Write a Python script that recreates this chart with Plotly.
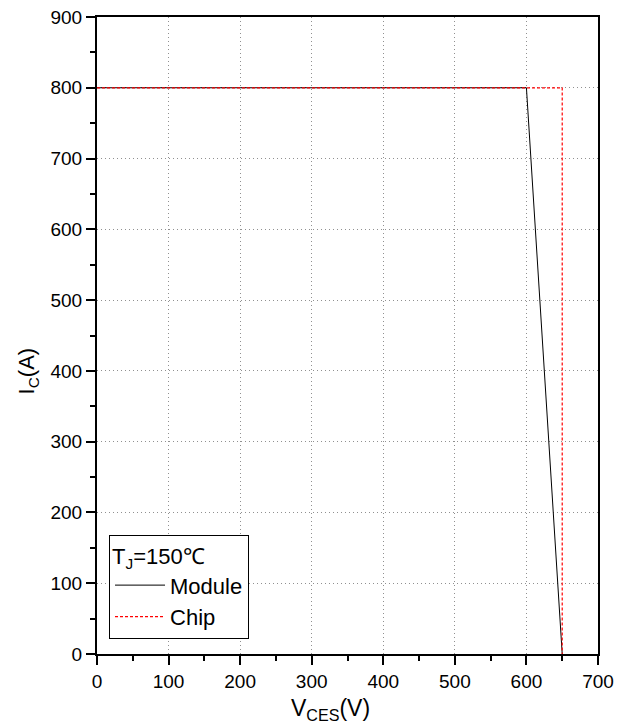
import plotly.graph_objects as go

module_x = [0, 600, 650]
module_y = [800, 800, 0]
chip_x = [0, 650, 650]
chip_y = [800, 800, 0]
x_ticks = [0, 100, 200, 300, 400, 500, 600, 700]
y_ticks = [0, 100, 200, 300, 400, 500, 600, 700, 800, 900]

fig = go.Figure()
fig.add_trace(go.Scatter(x=module_x, y=module_y, mode="lines", name="Module",
                         line=dict(color="black", width=1)))
fig.add_trace(go.Scatter(x=chip_x, y=chip_y, mode="lines", name="Chip",
                         line=dict(color="red", width=1.2, dash="3px,2px")))

font = "Liberation Sans, Arial, sans-serif"
axis_common = dict(
    showline=True, linecolor="black", linewidth=2, mirror=True,
    ticks="outside", ticklen=9, tickwidth=2, tickcolor="black",
    showgrid=True, gridcolor="#909090", griddash="1px,3px", gridwidth=1,
    zeroline=False, automargin=False,
    tickfont=dict(family=font, size=19, color="black"),
    minor=dict(ticks="outside", ticklen=5, tickwidth=2, tickcolor="black", showgrid=False),
)

fig.update_xaxes(range=[0, 700], tickvals=x_ticks, minor_dtick=50, **axis_common)
fig.update_yaxes(range=[0, 900], tickvals=y_ticks, minor_dtick=50, **axis_common)

fig.add_annotation(text="V<sub>CES</sub>(V)", xref="paper", yref="paper",
                   x=0.466, y=-0.087, xanchor="center", yanchor="middle", showarrow=False,
                   font=dict(family=font, size=23, color="black"))
fig.add_annotation(text="I<sub>C</sub>(A)", xref="paper", yref="paper",
                   x=-0.138, y=0.445, xanchor="center", yanchor="middle", showarrow=False,
                   textangle=-90, font=dict(family=font, size=22, color="black"))

fig.update_layout(
    width=628, height=723,
    margin=dict(l=97, r=30, t=17, b=69, autoexpand=False),
    paper_bgcolor="white", plot_bgcolor="white",
    font=dict(family=font, color="black"),
    showlegend=True,
    legend=dict(
        title=dict(text="T<sub>J</sub>=150℃", font=dict(family=font, size=22, color="black")),
        font=dict(family=font, size=22, color="black"),
        x=0.024, y=0.024, xanchor="left", yanchor="bottom",
        bgcolor="white", bordercolor="black", borderwidth=1,
        tracegroupgap=0, itemwidth=50,
    ),
)

fig.write_html("out.html", config={"displayModeBar": False},
               post_script="document.body.style.margin='0';document.body.style.overflow='hidden';")
